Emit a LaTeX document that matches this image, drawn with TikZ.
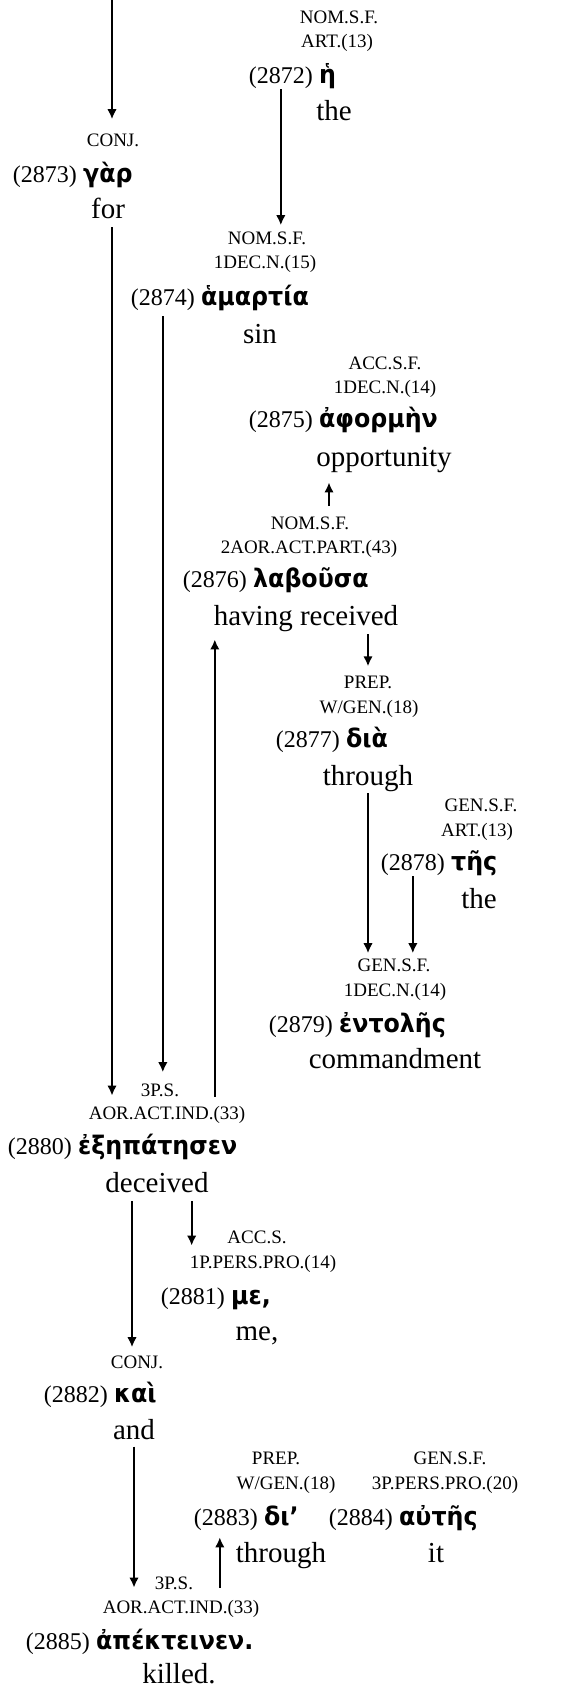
\documentclass[tikz,border=0pt]{standalone}
\usepackage{fontspec}
\setmainfont{Liberation Serif}
\newfontfamily\greekfont[FakeStretch=0.93]{DejaVu Sans}
\usetikzlibrary{arrows.meta}
\tikzset{
  lbl/.style={font=\fontsize{19}{22}\selectfont, inner sep=0pt, anchor=base},
  num/.style={font=\fontsize{24}{28}\selectfont, inner sep=0pt, anchor=base east},
  grk/.style={font=\greekfont\bfseries\fontsize{25.5}{28}\selectfont, inner sep=0pt, anchor=base west},
  gls/.style={font=\fontsize{29}{34}\selectfont, inner sep=0pt, anchor=base},
  arr/.style={-{Latex[length=10pt,width=9.5pt]}, line width=2pt, shorten <=6pt, shorten >=8pt}
}
\begin{document}
\begin{tikzpicture}[x=1pt, y=-1pt]
  \useasboundingbox (0,0) rectangle (577,1688);
  \path
    (339,24) node[lbl] (a2872) {NOM.S.F.}
    (337,48) node[lbl] (b2872) {ART.(13)}
    (313,84) node[num] (n2872) {(2872)}
    ([xshift=6pt]n2872.base east) node[grk] (g2872) {ἡ}
    (334,121) node[gls] (t2872) {the};
  \path
    (113,147) node[lbl] (b2873) {CONJ.}
    (77,183) node[num] (n2873) {(2873)}
    ([xshift=6pt]n2873.base east) node[grk] (g2873) {γὰρ}
    (108,219) node[gls] (t2873) {for};
  \path
    (267,244) node[lbl] (a2874) {NOM.S.F.}
    (265,269) node[lbl] (b2874) {1DEC.N.(15)}
    (195,305) node[num] (n2874) {(2874)}
    ([xshift=6pt]n2874.base east) node[grk] (g2874) {ἁμαρτία}
    (260,343) node[gls] (t2874) {sin};
  \path
    (385,369) node[lbl] (a2875) {ACC.S.F.}
    (385,393) node[lbl] (b2875) {1DEC.N.(14)}
    (313,427) node[num] (n2875) {(2875)}
    ([xshift=6pt]n2875.base east) node[grk] (g2875) {ἀφορμὴν}
    (384,466) node[gls] (t2875) {opportunity};
  \path
    (310,529) node[lbl] (a2876) {NOM.S.F.}
    (309,553) node[lbl] (b2876) {2AOR.ACT.PART.(43)}
    (247,587) node[num] (n2876) {(2876)}
    ([xshift=6pt]n2876.base east) node[grk] (g2876) {λαβοῦσα}
    (306,625) node[gls] (t2876) {having received};
  \path
    (368,688) node[lbl] (a2877) {PREP.}
    (369,713) node[lbl] (b2877) {W/GEN.(18)}
    (340,747) node[num] (n2877) {(2877)}
    ([xshift=6pt]n2877.base east) node[grk] (g2877) {διὰ}
    (368,785) node[gls] (t2877) {through};
  \path
    (481,811) node[lbl] (a2878) {GEN.S.F.}
    (477,836) node[lbl] (b2878) {ART.(13)}
    (445,870) node[num] (n2878) {(2878)}
    ([xshift=6pt]n2878.base east) node[grk] (g2878) {τῆς}
    (479,908) node[gls] (t2878) {the};
  \path
    (394,971) node[lbl] (a2879) {GEN.S.F.}
    (395,996) node[lbl] (b2879) {1DEC.N.(14)}
    (333,1032) node[num] (n2879) {(2879)}
    ([xshift=6pt]n2879.base east) node[grk] (g2879) {ἐντολῆς}
    (395,1068) node[gls] (t2879) {commandment};
  \path
    (160,1096) node[lbl] (a2880) {3P.S.}
    (167,1119) node[lbl] (b2880) {AOR.ACT.IND.(33)}
    (72,1154) node[num] (n2880) {(2880)}
    ([xshift=6pt]n2880.base east) node[grk] (g2880) {ἐξηπάτησεν}
    (157,1192) node[gls] (t2880) {deceived};
  \path
    (257,1243) node[lbl] (a2881) {ACC.S.}
    (263,1268) node[lbl] (b2881) {1P.PERS.PRO.(14)}
    (225,1304) node[num] (n2881) {(2881)}
    ([xshift=6pt]n2881.base east) node[grk] (g2881) {με,}
    (257,1340) node[gls] (t2881) {me,};
  \path
    (137,1368) node[lbl] (b2882) {CONJ.}
    (108,1402) node[num] (n2882) {(2882)}
    ([xshift=6pt]n2882.base east) node[grk] (g2882) {καὶ}
    (134,1439) node[gls] (t2882) {and};
  \path
    (276,1464) node[lbl] (a2883) {PREP.}
    (286,1489) node[lbl] (b2883) {W/GEN.(18)}
    (258,1525) node[num] (n2883) {(2883)}
    ([xshift=6pt]n2883.base east) node[grk] (g2883) {δι’}
    (281,1562) node[gls] (t2883) {through};
  \path
    (450,1464) node[lbl] (a2884) {GEN.S.F.}
    (445,1489) node[lbl] (b2884) {3P.PERS.PRO.(20)}
    (393,1525) node[num] (n2884) {(2884)}
    ([xshift=6pt]n2884.base east) node[grk] (g2884) {αὐτῆς}
    (436,1562) node[gls] (t2884) {it};
  \path
    (174,1589) node[lbl] (a2885) {3P.S.}
    (181,1613) node[lbl] (b2885) {AOR.ACT.IND.(33)}
    (90,1649) node[num] (n2885) {(2885)}
    ([xshift=6pt]n2885.base east) node[grk] (g2885) {ἀπέκτεινεν.}
    (179,1683) node[gls] (t2885) {killed.};
  \coordinate (top) at (112,0);
  \draw[arr, shorten <=0pt, shorten >=15pt] (top) -- (top |- b2873.north);
  \draw[arr, shorten <=0pt, shorten >=6pt] (n2872.south) -- (n2872.south |- a2874.north);
  \draw[arr, shorten <=8pt, shorten >=10pt] ([xshift=4pt]t2873.south) -- ([xshift=4pt]t2873.south |- b2880.north);
  \draw[arr, shorten >=11pt] (n2874.south) -- (n2874.south |- a2880.north);
  \draw[arr, shorten <=9pt] (n2876.south |- b2880.north) -- (n2876.south |- t2876.south);
  \draw[arr, shorten <=10pt, shorten >=10pt] ([xshift=19pt]a2876.north) -- ([xshift=19pt]a2876.north |- t2875.south);
  \draw[arr, shorten <=3pt, shorten >=9pt] (a2877.north |- t2876.south) -- (a2877.north);
  \draw[arr, shorten <=2pt, shorten >=5pt] (t2877.south) -- (t2877.south |- a2879.north);
  \draw[arr, shorten <=1pt, shorten >=5pt] (n2878.south) -- (n2878.south |- a2879.north);
  \draw[arr, shorten <=9pt, shorten >=8pt] ([xshift=-5pt]b2882.north |- t2880.south) -- ([xshift=-5pt]b2882.north);
  \draw[arr, shorten <=9pt, shorten >=9pt] ([xshift=2pt]b2881.north west |- t2880.south) -- ([xshift=2pt]b2881.north west);
  \draw[arr, shorten <=7pt, shorten >=12pt] (t2882.south) -- (t2882.south |- b2885.north);
  \draw[arr, shorten <=12pt, shorten >=7pt] ([xshift=-6pt]n2883.south |- b2885.north) -- ([xshift=-6pt]n2883.south);
\end{tikzpicture}
\end{document}
